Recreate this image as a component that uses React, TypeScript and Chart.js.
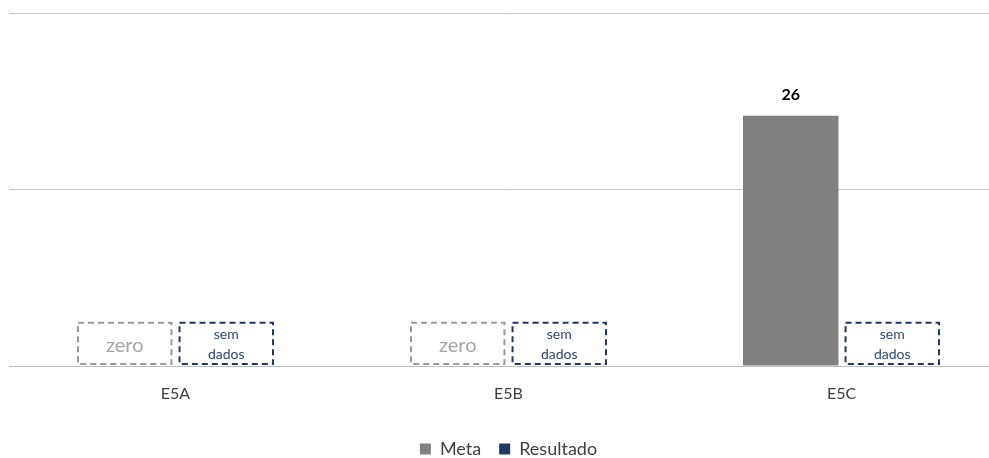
import React, { useEffect, useRef } from "react";
import { Chart, registerables } from "chart.js";

Chart.register(...registerables);

const categories = ["E5A", "E5B", "E5C"];
const metaValues = [0, 0, 26];
const resultadoValues = [0, 0, 0];
const metaNotes = ["zero", "zero", ""];
const resultadoNotes = ["sem dados", "sem dados", "sem dados"];
const axisMax = 36.66;
const placeholderValue = 4.5;

const FONT = "Lato, 'Open Sans', sans-serif";

const notesPlugin = {
  id: "notes",
  afterDatasetsDraw(chart: any) {
    const ctx = chart.ctx;
    const y = chart.scales.y;
    const y0 = y.getPixelForValue(0);
    const y1 = y.getPixelForValue(placeholderValue);
    const sets = [
      { notes: metaNotes, stroke: "#9a9a9a", color: "#a6a6a6", big: true },
      { notes: resultadoNotes, stroke: "#1f3864", color: "#2f4670", big: false },
    ];
    sets.forEach((s, di) => {
      const meta = chart.getDatasetMeta(di);
      meta.data.forEach((el: any, j: number) => {
        const note = s.notes[j];
        if (!note) return;
        const { x, width } = el.getProps(["x", "width"], true);
        const left = x - width / 2 + 1;
        const w = width - 2;
        const top = y1;
        const h = y0 - y1 - 2;
        ctx.save();
        ctx.setLineDash([6, 4]);
        ctx.lineWidth = 2;
        ctx.strokeStyle = s.stroke;
        ctx.strokeRect(left, top, w, h);
        ctx.setLineDash([]);
        ctx.fillStyle = s.color;
        ctx.textAlign = "center";
        ctx.textBaseline = "middle";
        const cy = top + h / 2;
        if (s.big) {
          ctx.font = `20px ${FONT}`;
          ctx.fillText(note, x, cy + 2);
        } else {
          ctx.font = `14px ${FONT}`;
          const parts = note.split(" ");
          ctx.fillText(parts[0], x, cy - 9);
          ctx.fillText(parts[1], x, cy + 11);
        }
        ctx.restore();
      });
    });
    const meta0 = chart.getDatasetMeta(0);
    meta0.data.forEach((el: any, j: number) => {
      const v = metaValues[j];
      if (!v) return;
      const { x, y: yy } = el.getProps(["x", "y"], true);
      ctx.save();
      ctx.font = `bold 16px ${FONT}`;
      ctx.fillStyle = "#000";
      ctx.textAlign = "center";
      ctx.textBaseline = "middle";
      ctx.fillText(String(v), x, yy - 21);
      ctx.restore();
    });
  },
};

export default function App() {
  const ref = useRef<HTMLCanvasElement>(null);
  useEffect(() => {
    document.body.style.margin = "0";
    const chart = new Chart(ref.current!, {
      type: "bar",
      data: {
        labels: categories,
        datasets: [
          {
            label: "Meta",
            data: metaValues,
            backgroundColor: "#808080",
            categoryPercentage: 0.61,
            barPercentage: 0.94,
          },
          {
            label: "Resultado",
            data: resultadoValues,
            backgroundColor: "#1f3864",
            categoryPercentage: 0.61,
            barPercentage: 0.94,
          },
        ],
      },
      options: {
        animation: false,
        responsive: false,
        layout: { padding: { left: 9, right: 28, top: 13, bottom: 0 } },
        plugins: {
          legend: {
            position: "bottom",
            labels: {
              boxWidth: 11,
              boxHeight: 11,
              padding: 18,
              color: "#404040",
              font: { family: FONT, size: 18 },
            },
          },
          tooltip: { enabled: false },
        },
        scales: {
          x: {
            grid: { display: false, drawTicks: false },
            border: { display: true, color: "#bfbfbf", width: 1 },
            ticks: { color: "#404040", font: { family: FONT, size: 16 }, padding: 18.4 },
          },
          y: {
            min: 0,
            max: axisMax,
            afterBuildTicks: (scale: any) => {
              scale.ticks = [{ value: 0 }, { value: axisMax / 2 }, { value: axisMax }];
            },
            grid: { color: "#c8c8c8", drawTicks: false },
            border: { display: false },
            ticks: { display: false },
          },
        },
      },
      plugins: [notesPlugin],
    });
    return () => chart.destroy();
  }, []);
  return (
    <div style={{ width: 989, height: 458, overflow: "hidden" }}>
      <canvas ref={ref} width={1036} height={468} style={{ display: "block" }} />
    </div>
  );
}
